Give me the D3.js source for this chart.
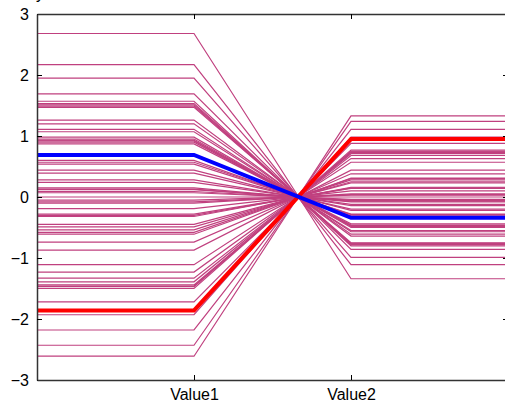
<!DOCTYPE html>
<html>
<head>
<meta charset="utf-8">
<script src="https://cdn.jsdelivr.net/npm/d3@7"></script>
<style>
  body { margin: 0; background: #fff; }
  svg text { font-family: "Liberation Sans", Arial, sans-serif; }
</style>
</head>
<body>
<div id="chart"></div>
<script>
// axis categories and ticks
var categories = ['Value1', 'Value2'],
    yTicks = [-3, -2, -1, 0, 1, 2, 3];

// values for every plain line: left (Value1) and right (Value2)
var value1 = [2.68, 2.17, 1.95, 1.69, 1.57, 1.53, 1.51, 1.49, 1.47, 1.26, 1.20, 1.11, 1.07,
              0.98, 0.95, 0.93, 0.92, 0.90, 0.87, 0.60, 0.57, 0.54, 0.44, 0.39, 0.28, 0.24, 0.15,
              0.13, 0.12, 0.09, 0.07, 0.00, -0.05, -0.08, -0.10, -0.19, -0.28, -0.30, -0.32, -0.45,
              -0.49, -0.54, -0.58, -0.61, -0.74, -0.87, -1.11, -1.23, -1.33, -1.39, -1.44,
              -1.46, -1.47, -1.50, -1.72, -1.93, -2.18, -2.43, -2.61];
var value2 = [-1.34, -1.11, -0.99, -0.86, -0.80, -0.78, -0.77, -0.76, -0.75, -0.64, -0.61, -0.57, -0.55,
              -0.50, -0.48, -0.475, -0.47, -0.46, -0.44, -0.31, -0.29, -0.28, -0.22, -0.20, -0.14, -0.12, -0.08,
              -0.07, -0.06, -0.05, -0.04, 0.00, 0.03, 0.04, 0.05, 0.10, 0.14, 0.15, 0.16, 0.23,
              0.25, 0.28, 0.30, 0.31, 0.38, 0.44, 0.57, 0.63, 0.68, 0.71, 0.73,
              0.74, 0.75, 0.77, 0.88, 0.98, 1.11, 1.24, 1.33];

// the two highlighted lines
var redLine = [-1.86, 0.95],
    blueLine = [0.69, -0.34];

var width = 505, height = 405,
    plotLeft = 37, plotRight = 508, plotTop = 14, plotBottom = 380;

var svg = d3.select('#chart').append('svg')
  .attr('width', width)
  .attr('height', height);

var x = d3.scaleLinear().domain([0, 3]).range([plotLeft, plotRight]),
    y = d3.scaleLinear().domain([-3, 3]).range([plotBottom, plotTop]);

// each line is flat from the left edge to Value1, slants to Value2, then flat again
function pts(a, b) {
  return [[0, a], [1, a], [2, b], [3, b]];
}
var line = d3.line()
  .x(function(d) { return x(d[0]); })
  .y(function(d) { return y(d[1]); });

svg.append('g').selectAll('path')
  .data(value1)
  .enter()
    .append('path')
      .attr('d', function(d, i) { return line(pts(d, value2[i])); })
      .attr('fill', 'none')
      .attr('stroke', '#c0407f')
      .attr('stroke-width', 1.2);

svg.append('path')
  .attr('d', line(pts(redLine[0], redLine[1])))
  .attr('fill', 'none')
  .attr('stroke', '#ff0000')
  .attr('stroke-width', 4);

svg.append('path')
  .attr('d', line(pts(blueLine[0], blueLine[1])))
  .attr('fill', 'none')
  .attr('stroke', '#0000ff')
  .attr('stroke-width', 4);

// axes, matlab style: box with ticks pointing inwards
var yLeft = d3.axisLeft(y).tickValues(yTicks).tickSizeInner(-5).tickSizeOuter(0).tickPadding(8)
  .tickFormat(function(d) { return d < 0 ? '\u2212' + Math.abs(d) : d; });
var yRight = d3.axisRight(y).tickValues(yTicks).tickSizeInner(-5).tickSizeOuter(0).tickFormat('');
var xBottom = d3.axisBottom(x).tickValues([1, 2]).tickSizeInner(-5).tickSizeOuter(0).tickPadding(9)
  .tickFormat(function(d) { return categories[d - 1]; });
var xTop = d3.axisTop(x).tickValues([1, 2]).tickSizeInner(-5).tickSizeOuter(0).tickFormat('');

svg.append('g').attr('transform', 'translate(' + plotLeft + ',0)').call(yLeft);
svg.append('g').attr('transform', 'translate(' + plotRight + ',0)').call(yRight);
svg.append('g').attr('transform', 'translate(0,' + plotBottom + ')').call(xBottom);
svg.append('g').attr('transform', 'translate(0,' + plotTop + ')').call(xTop);

svg.selectAll('.domain').attr('stroke', '#333').attr('stroke-width', 1.5);
svg.selectAll('.tick line').attr('stroke', '#000');
svg.selectAll('.tick text').attr('font-size', 16).attr('fill', '#000');

// title mostly cut off above the plot
svg.append('text')
  .attr('x', 36).attr('y', -1)
  .attr('font-size', 16)
  .text('y');
</script>
</body>
</html>
